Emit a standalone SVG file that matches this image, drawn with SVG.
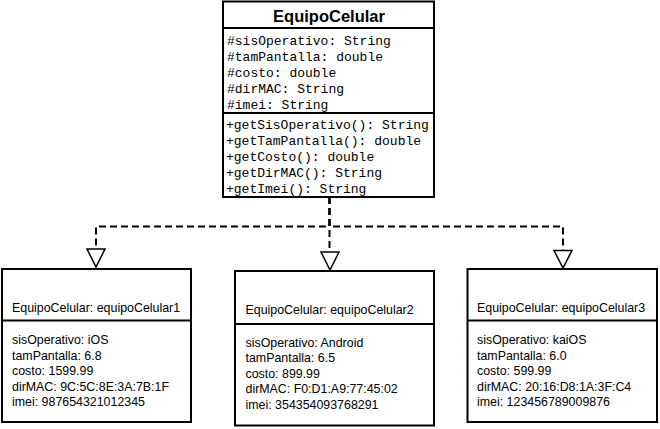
<svg xmlns="http://www.w3.org/2000/svg" width="660" height="429" viewBox="0 0 660 429">
<style>
.box{fill:#fff;stroke:#000;stroke-width:2}
.sep{stroke:#000;stroke-width:2}
.title{font-family:"Liberation Sans",Arial,sans-serif;font-weight:bold;font-size:16.5px;fill:#000}
.mono{font-family:"Liberation Mono","Courier New",monospace;font-size:13px;fill:#000}
.obj{font-family:"Liberation Sans",Arial,sans-serif;font-size:12.4px;fill:#000}
.conn{fill:none;stroke:#000;stroke-width:2;stroke-dasharray:7 4}
.head{fill:#fff;stroke:#000;stroke-width:1.5}
</style>
<rect width="660" height="429" fill="#fff"/>
<g id="connectors">
<path class="conn" d="M329.5,197 V226.5 H96 V249"/>
<path class="conn" d="M329.5,197 V252"/>
<path class="conn" d="M329.5,197 V226.5 H563 V250.5"/>
<polygon class="head" points="87,249 105,249 96,267"/>
<polygon class="head" points="321,252 339,252 330,270"/>
<polygon class="head" points="554,250.5 572,250.5 563,268"/>
</g>
<g id="EquipoCelular">
<rect class="box" x="223" y="1.5" width="211" height="195.5"/>
<line class="sep" x1="223" y1="28" x2="434" y2="28"/>
<line class="sep" x1="223" y1="113" x2="434" y2="113"/>
<text class="title" x="329" y="22" text-anchor="middle">EquipoCelular</text>
<text class="mono" x="227" y="45">#sisOperativo: String</text>
<text class="mono" x="227" y="61">#tamPantalla: double</text>
<text class="mono" x="227" y="77">#costo: double</text>
<text class="mono" x="227" y="93">#dirMAC: String</text>
<text class="mono" x="227" y="109">#imei: String</text>
<text class="mono" x="226" y="129">+getSisOperativo(): String</text>
<text class="mono" x="226" y="145">+getTamPantalla(): double</text>
<text class="mono" x="226" y="161">+getCosto(): double</text>
<text class="mono" x="226" y="177">+getDirMAC(): String</text>
<text class="mono" x="226" y="193">+getImei(): String</text>
</g>
<g id="equipoCelular1">
<rect class="box" x="2" y="269" width="189" height="153"/>
<line class="sep" x1="2" y1="320.5" x2="191" y2="320.5"/>
<text class="obj" x="12" y="311.5">EquipoCelular: equipoCelular1</text>
<text class="obj" x="12" y="344">sisOperativo: iOS</text>
<text class="obj" x="12" y="359.5">tamPantalla: 6.8</text>
<text class="obj" x="12" y="375">costo: 1599.99</text>
<text class="obj" x="12" y="390.5">dirMAC: 9C:5C:8E:3A:7B:1F</text>
<text class="obj" x="12" y="406">imei: 987654321012345</text>
</g>
<g id="equipoCelular2">
<rect class="box" x="235" y="271" width="199" height="154.5"/>
<line class="sep" x1="235" y1="324" x2="434" y2="324"/>
<text class="obj" x="245.5" y="314">EquipoCelular: equipoCelular2</text>
<text class="obj" x="245.5" y="346.5">sisOperativo: Android</text>
<text class="obj" x="245.5" y="362">tamPantalla: 6.5</text>
<text class="obj" x="245.5" y="377.5">costo: 899.99</text>
<text class="obj" x="245.5" y="393">dirMAC: F0:D1:A9:77:45:02</text>
<text class="obj" x="245.5" y="408.5">imei: 354354093768291</text>
</g>
<g id="equipoCelular3">
<rect class="box" x="467.5" y="269" width="189.5" height="153"/>
<line class="sep" x1="467.5" y1="320.5" x2="657" y2="320.5"/>
<text class="obj" x="477" y="311.5">EquipoCelular: equipoCelular3</text>
<text class="obj" x="477" y="344">sisOperativo: kaiOS</text>
<text class="obj" x="477" y="359.5">tamPantalla: 6.0</text>
<text class="obj" x="477" y="375">costo: 599.99</text>
<text class="obj" x="477" y="390.5">dirMAC: 20:16:D8:1A:3F:C4</text>
<text class="obj" x="477" y="406">imei: 123456789009876</text>
</g>
</svg>
